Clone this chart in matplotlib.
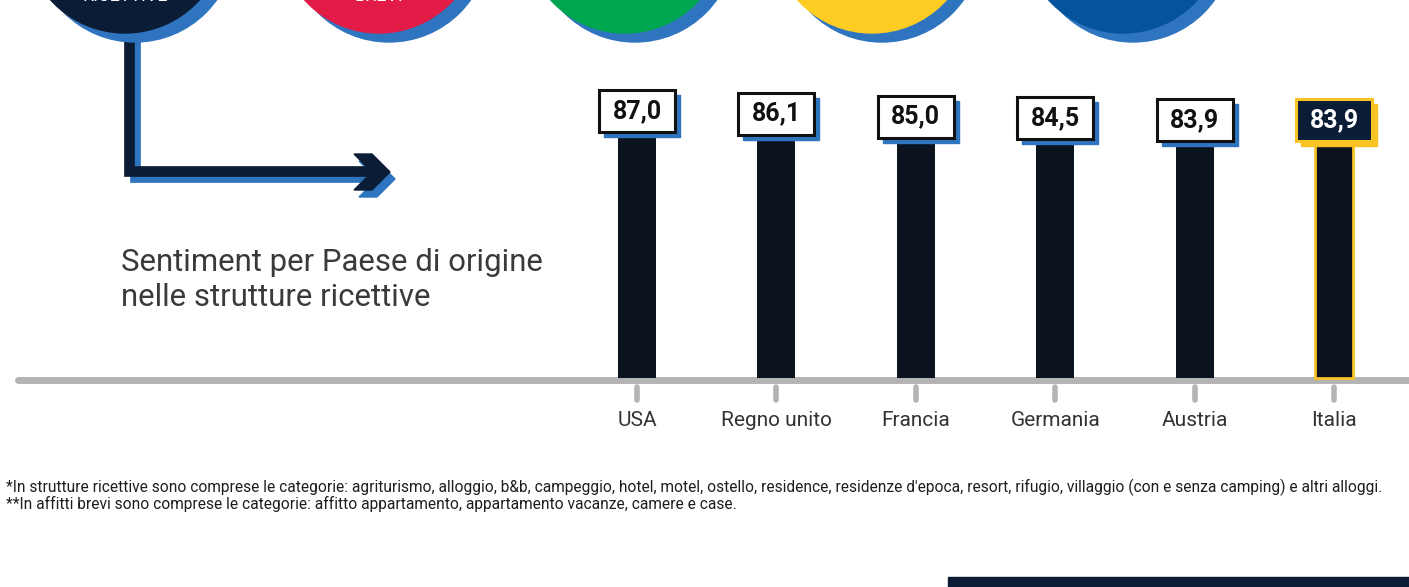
import matplotlib.pyplot as plt
from matplotlib.patches import Rectangle, Circle, Polygon

# dati
paesi = ["USA", "Regno unito", "Francia", "Germania", "Austria", "Italia"]
sentiment = [87.0, 86.1, 85.0, 84.5, 83.9, 83.9]
etichette = ["87,0", "86,1", "85,0", "84,5", "83,9", "83,9"]
titolo = "Sentiment per Paese di origine\nnelle strutture ricettive"
note = [
    "*In strutture ricettive sono comprese le categorie: agriturismo, alloggio, b&b, campeggio, hotel, motel, "
    "ostello, residence, residenze d'epoca, resort, rifugio, villaggio (con e senza camping) e altri alloggi.",
    "**In affitti brevi sono comprese le categorie: affitto appartamento, appartamento vacanze, camere e case.",
]
cerchi_testi = ["RICETTIVE", "BREVI", "", "", ""]
cerchi_colori = ["#0b1d36", "#e31b47", "#00a650", "#fecd23", "#05539a"]

NAVY = "#0b1d36"
BAR = "#0b131f"
OMBRA = "#2e74bf"
GIALLO = "#f7c325"
GRIGIO = "#b4b4b4"

W, H = 1409, 587
fig = plt.figure(figsize=(W / 100, H / 100), dpi=100)

# livello decorativo in pixel
bg = fig.add_axes([0, 0, 1, 1])
bg.set_xlim(0, W)
bg.set_ylim(H, 0)
bg.axis("off")

# cerchi in alto (tagliati dal bordo come nell'originale)
cx = [125, 379, 625, 872, 1123]
for x, col, t in zip(cx, cerchi_colori, cerchi_testi):
    bg.add_patch(Circle((x + 10, -58), 100, color=OMBRA, zorder=3))
    bg.add_patch(Circle((x, -67), 100, color=col, zorder=4))
    if t:
        bg.text(x, 5, t, color="white", fontsize=13, ha="center", va="bottom",
                family="Roboto", zorder=5)

# freccia
lw = 7.7
bg.plot([134.5, 134.5, 372], [30, 177, 177], color=OMBRA, lw=lw,
        solid_joinstyle="miter", zorder=1)
bg.plot([128.5, 128.5, 368], [30, 171, 171], color=NAVY, lw=lw,
        solid_joinstyle="miter", zorder=2)
chev = [(354, 154), (372, 154), (390, 172), (372, 190), (354, 190), (372, 172)]
bg.add_patch(Polygon([(a + 5, b + 7) for a, b in chev], color=OMBRA, zorder=1))
bg.add_patch(Polygon(chev, color=NAVY, zorder=2))

# titolo
bg.text(121, 280, titolo, fontsize=22.4, color="#3a3a3a", va="center",
        linespacing=1.3, family="Roboto")

# asse orizzontale
bg.plot([18, W + 20], [380, 380], color=GRIGIO, lw=5, solid_capstyle="round", zorder=3)

# note
for i, n in enumerate(note):
    bg.text(6, 487 + i * 17, n, fontsize=11.2, color="#1e1e1e", va="center",
            family="Roboto")

bg.add_patch(Rectangle((948, 577), W - 948, 15, color=NAVY))

# grafico a barre
PX_X, X0 = 139.4, 637
PX_Y, Y0 = 2.78, 378
ax = fig.add_axes([0, 0, 1, 1])
ax.patch.set_alpha(0)
ax.axis("off")
ax.set_xlim(-X0 / PX_X, (W - X0) / PX_X)
ax.set_ylim(-(H - Y0) / PX_Y, Y0 / PX_Y)

x = list(range(len(paesi)))
bars = ax.bar(x, sentiment, width=38 / PX_X, color=BAR, zorder=2)
bars[-1].set_edgecolor(GIALLO)
bars[-1].set_linewidth(2)

bw, bh = 76 / PX_X, 42 / PX_Y
dx, dy = 5 / PX_X, 5 / PX_Y
for i, (v, lab) in enumerate(zip(sentiment, etichette)):
    ultimo = i == len(paesi) - 1
    y0 = v + 4 / PX_Y
    ax.add_patch(Rectangle((i - bw / 2 + dx, y0 - dy), bw, bh,
                           color=GIALLO if ultimo else OMBRA, zorder=3))
    ax.add_patch(Rectangle((i - bw / 2, y0), bw, bh,
                           facecolor=NAVY if ultimo else "white",
                           edgecolor=GIALLO if ultimo else "#111111",
                           lw=2.2, zorder=4))
    ax.text(i, y0 + bh / 2, lab, ha="center", va="center", fontsize=18,
            fontweight="bold", color="white" if ultimo else "#111111",
            family="Roboto", zorder=5)
    # tacca e nome
    ax.plot([i, i], [-(387 - Y0) / PX_Y, -(400 - Y0) / PX_Y], color=GRIGIO,
            lw=4, solid_capstyle="round", zorder=1)
    ax.text(i, -(421 - Y0) / PX_Y, paesi[i], ha="center", va="center",
            fontsize=15, color="#333333", family="Roboto")

fig.savefig("out.png", dpi=100)
